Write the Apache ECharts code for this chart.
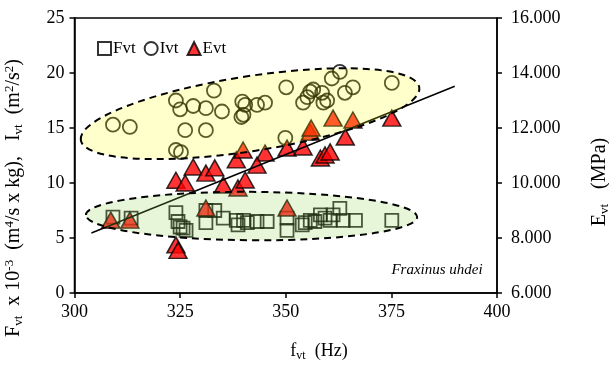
<!DOCTYPE html>
<html><head><meta charset="utf-8">
<script src="https://cdn.jsdelivr.net/npm/echarts@6/dist/echarts.min.js"></script>
<style>html,body{margin:0;padding:0;background:#fff}#c{width:609px;height:365px}</style>
</head><body><div id="c"></div>
<script>
// Fvt (left axis, x10^-3)
const fvtF = [309.1,313.4,324.0,324.5,325.0,325.7,326.4,331.1,333.2,331.1,335.2,338.3,338.7,340.0,340.9,343.2,345.6,350.3,350.3,353.9,354.6,355.8,356.9,358.2,359.3,360.5,361.2,362.8,363.6,366.5,375.1];
const fvtV = [6.9,6.8,7.3,6.5,6.0,5.9,5.7,7.5,7.5,6.4,6.8,6.6,6.2,6.6,6.4,6.5,6.5,5.7,6.8,6.2,6.4,6.6,6.5,7.1,6.8,6.6,7.1,7.7,6.6,6.6,6.6];
// Ivt (left axis)
const ivtF = [309.1,313.1,324.0,325.0,328.1,331.1,333.0,334.9,326.2,331.1,324.0,325.2,339.5,339.7,340.4,340.0,343.2,345.1,350.1,354.1,355.1,355.8,356.5,358.6,358.9,359.8,360.9,362.8,364.0,365.9,375.1,349.9];
const ivtV = [15.3,15.1,17.5,16.7,17.0,16.8,18.4,16.5,14.8,14.8,13.0,12.8,16.0,17.4,17.1,16.2,17.1,17.3,18.7,17.3,17.8,18.3,18.5,18.2,17.3,17.5,19.5,20.1,18.2,18.7,19.1,14.1];
// Evt (right axis, MPa)
const evtF = [308.6,313.1,324.0,324.5,324.0,326.2,328.1,331.1,333.2,335.2,331.1,338.3,338.7,339.9,340.4,345.1,343.2,350.3,354.1,355.8,361.2,365.9,375.1,364.1,358.2,359.3,360.5,350.3,356.0];
const evtE = [8650,8650,7750,7550,10100,10000,10580,10360,10550,9930,9090,10840,9820,11200,10110,11090,10650,11270,11310,11850,12360,12290,12360,11670,10910,11020,11130,9090,12000];
// Trend line (right axis)
const trendF = [304, 390];
const trendE = [8180, 13520];
// Ellipse annotations (left-axis data units): from, to, semi-minor
const ivtEllipse = {from:[301.5,13.9], to:[381.6,18.7], minor:3.4};
const fvtEllipse = {from:[302.7,7.09], to:[381.1,6.9], minor:2.2};

const xTicks = {min:300, max:400, interval:25};
const yTicks = {min:0, max:25, interval:5};
const y2Ticks = {min:6000, max:16000, interval:2000};

const FONT = 'Liberation Serif';
const zip = (a,b) => a.map((v,i)=>[v,b[i]]);
const chart = echarts.init(document.getElementById('c'));
const axisCommon = {
  axisLine:{show:true, lineStyle:{color:'#000', width:1.5}},
  axisTick:{show:true, inside:false, length:5, lineStyle:{color:'#000', width:1.5}},
  splitLine:{show:false},
  axisLabel:{color:'#000', fontFamily:FONT, fontSize:18}
};
chart.setOption({
  animation:false,
  grid:{left:74.5, right:112, top:18, bottom:72, show:true, borderColor:'#000', borderWidth:1.5, backgroundColor:'transparent'},
  legend:{left:92, top:35, itemWidth:13, itemHeight:13, itemGap:8,
    textStyle:{fontFamily:FONT, fontSize:17, color:'#000', padding:[0,0,0,-3]},
    data:['Fvt','Ivt','Evt']},
  xAxis:Object.assign({type:'value', min:xTicks.min, max:xTicks.max, interval:xTicks.interval}, axisCommon,
    {axisLabel:Object.assign({}, axisCommon.axisLabel, {margin:10})}),
  yAxis:[
    Object.assign({type:'value', min:yTicks.min, max:yTicks.max, interval:yTicks.interval, position:'left'}, axisCommon,
      {axisLabel:Object.assign({}, axisCommon.axisLabel, {margin:10})}),
    Object.assign({type:'value', min:y2Ticks.min, max:y2Ticks.max, interval:y2Ticks.interval, position:'right'}, axisCommon,
      {axisLabel:Object.assign({}, axisCommon.axisLabel, {margin:14, formatter:v=>(v/1000).toFixed(3)})})
  ],
  series:[
    {name:'Fvt', type:'scatter', yAxisIndex:0, symbol:'rect', symbolSize:13, data:zip(fvtF,fvtV),
      itemStyle:{color:'rgba(255,255,255,0)', borderColor:'#000', borderWidth:1.8}},
    {name:'Ivt', type:'scatter', yAxisIndex:0, symbol:'circle', symbolSize:14, data:zip(ivtF,ivtV),
      itemStyle:{color:'rgba(255,255,255,0)', borderColor:'#000', borderWidth:1.8}},
    {name:'Evt', type:'scatter', yAxisIndex:1, symbol:'triangle', symbolSize:[18,16], data:zip(evtF,evtE),
      itemStyle:{color:'#ff0000', borderColor:'#000', borderWidth:1.5}},
    {name:'trend', type:'line', yAxisIndex:1, data:zip(trendF,trendE), showSymbol:false, symbol:'none',
      lineStyle:{color:'#000', width:1.5}, z:3}
  ]
});

function ellipseGraphic(e, fill){
  const x1 = chart.convertToPixel({xAxisIndex:0}, e.from[0]);
  const y1 = chart.convertToPixel({yAxisIndex:0}, e.from[1]);
  const x2 = chart.convertToPixel({xAxisIndex:0}, e.to[0]);
  const y2 = chart.convertToPixel({yAxisIndex:0}, e.to[1]);
  const ry = Math.abs(chart.convertToPixel({yAxisIndex:0}, 0) - chart.convertToPixel({yAxisIndex:0}, e.minor));
  const rx = Math.hypot(x2-x1, y2-y1)/2;
  return {type:'ellipse', x:(x1+x2)/2, y:(y1+y2)/2, rotation:-Math.atan2(y2-y1, x2-x1),
    shape:{cx:0, cy:0, rx:rx, ry:ry}, z:10,
    style:{fill:fill, stroke:'#000', lineWidth:2, lineDash:[7,5]}};
}
const N = {fontFamily:FONT, fontSize:20, fill:'#000'};
const S = {fontFamily:FONT, fontSize:13, fill:'#000', padding:[9,0,0,0]};
const P = {fontFamily:FONT, fontSize:13, fill:'#000', padding:[0,0,9,0]};
chart.setOption({graphic:[
  ellipseGraphic(ivtEllipse, 'rgba(255,255,0,0.2)'),
  ellipseGraphic(fvtEllipse, 'rgba(146,208,80,0.22)'),
  {type:'text', x:437, y:270, z:12, style:{text:'Fraxinus uhdei', fontFamily:FONT, fontSize:15, fontStyle:'italic', fill:'#000', align:'center', verticalAlign:'middle'}},
  {type:'text', x:319, y:351, z:12, style:{text:'{n|f}{s|vt}{n|  (Hz)}', align:'center', verticalAlign:'middle',
    rich:{n:{fontFamily:FONT, fontSize:18, fill:'#000'}, s:{fontFamily:FONT, fontSize:12, fill:'#000', padding:[9,0,0,0]}}}},
  {type:'text', x:14, y:198, z:12, rotation:Math.PI/2, style:{
    text:'{n|F}{s|vt}{n|  x 10}{p|-3}{n|  (m}{p|4}{n|/s x kg),   I}{s|vt}{n|  (m}{p|2}{n|/s}{p|2}{n|)}', align:'center', verticalAlign:'middle',
    rich:{n:N, s:S, p:P}}},
  {type:'text', x:600, y:182, z:12, rotation:Math.PI/2, style:{
    text:'{n|E}{s|vt}{n|   (MPa)}', align:'center', verticalAlign:'middle',
    rich:{n:N, s:S}}}
]});
</script></body></html>
